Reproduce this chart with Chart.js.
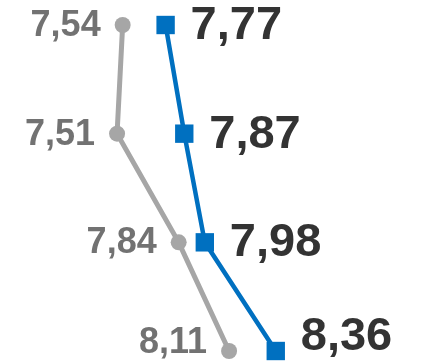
<!DOCTYPE html>
<html>
<head>
<meta charset="utf-8">
<style>
  html, body { margin: 0; padding: 0; background: #ffffff; }
  #wrap { width: 424px; height: 361px; position: relative; }
</style>
<script src="https://cdn.jsdelivr.net/npm/chart.js@4/dist/chart.umd.min.js"></script>
</head>
<body>
<div id="wrap"><canvas id="c" width="424" height="361"></canvas></div>
<script>
const categories = ['A', 'B', 'C', 'D'];
const seriesPrev = [7.54, 7.51, 7.84, 8.11];
const seriesCurr = [7.77, 7.87, 7.98, 8.36];

const fmt = v => v.toFixed(2).replace('.', ',');

// value labels: previous series to the left of its points, current series to the right;
// labels are kept inside the canvas at the bottom edge
const valueLabels = {
  id: 'valueLabels',
  afterDatasetsDraw(chart) {
    const ctx = chart.ctx;
    const H = chart.height;
    ctx.save();
    ctx.textBaseline = 'middle';
    chart.data.datasets.forEach((ds, di) => {
      const meta = chart.getDatasetMeta(di);
      meta.data.forEach((pt, i) => {
        const txt = fmt(ds.data[i]);
        if (di === 0) {
          ctx.font = 'bold 36px "Liberation Sans", Arial, sans-serif';
          ctx.fillStyle = '#727272';
          ctx.textAlign = 'right';
          ctx.fillText(txt, pt.x - 22, Math.min(pt.y, H - 19) + 1);
        } else {
          ctx.font = 'bold 47px "Liberation Sans", Arial, sans-serif';
          ctx.fillStyle = '#333333';
          ctx.textAlign = 'left';
          ctx.fillText(txt, pt.x + 25, Math.min(pt.y, H - 25) + 1);
        }
      });
    });
    ctx.restore();
  }
};

new Chart(document.getElementById('c'), {
  type: 'line',
  data: {
    labels: categories,
    datasets: [
      {
        data: seriesPrev,
        borderColor: '#A6A6A6',
        backgroundColor: '#A6A6A6',
        borderWidth: 5,
        pointStyle: 'circle',
        pointRadius: 8,
        pointBorderWidth: 0,
        tension: 0,
        clip: false
      },
      {
        data: seriesCurr,
        borderColor: '#0070C0',
        backgroundColor: '#0070C0',
        borderWidth: 4.5,
        pointStyle: 'rect',
        pointRadius: 13,
        pointBorderWidth: 0,
        tension: 0,
        clip: false
      }
    ]
  },
  options: {
    indexAxis: 'y',
    responsive: false,
    animation: false,
    layout: { autoPadding: false, padding: { top: 25, bottom: 10, left: 0, right: 0 } },
    plugins: { legend: { display: false }, tooltip: { enabled: false } },
    scales: {
      x: { type: 'linear', min: 6.883, max: 9.154, display: false },
      y: { type: 'category', offset: false, display: false }
    }
  },
  plugins: [valueLabels]
});
</script>
</body>
</html>
